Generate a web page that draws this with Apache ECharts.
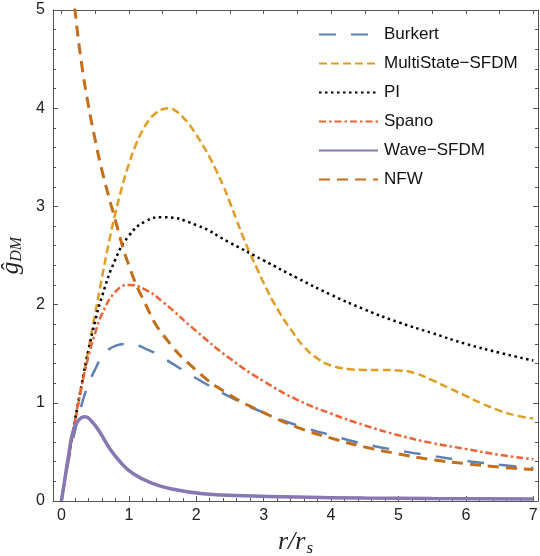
<!DOCTYPE html>
<html>
<head>
<meta charset="utf-8">
<script src="https://cdn.jsdelivr.net/npm/echarts@6/dist/echarts.min.js"></script>
<style>
  html, body { margin: 0; padding: 0; background: #fff; }
  #main { width: 540px; height: 556px; }
</style>
</head>
<body>
<div id="main"></div>
<script>
// shared radius grid (r / r_s)
const xGrid = [0, 0.1, 0.2, 0.3, 0.4, 0.5, 0.6, 0.8, 1.0, 1.25, 1.5, 2, 2.5, 3, 3.5, 4, 4.5, 5, 5.5, 6, 6.5, 7]

const burkert = [0, 0.39, 0.71, 0.98, 1.19, 1.34, 1.46, 1.58, 1.60, 1.55, 1.46, 1.25, 1.06, 0.90, 0.77, 0.67, 0.58, 0.515, 0.46, 0.41, 0.37, 0.335]
const pseudoIso = [0, 0.42, 0.82, 1.19, 1.53, 1.83, 2.08, 2.46, 2.70, 2.85, 2.89, 2.81, 2.63, 2.45, 2.27, 2.10, 1.95, 1.82, 1.71, 1.60, 1.51, 1.43]
const spano = [0, 0.42, 0.81, 1.17, 1.47, 1.71, 1.90, 2.13, 2.20, 2.15, 2.03, 1.73, 1.45, 1.22, 1.03, 0.89, 0.77, 0.67, 0.59, 0.53, 0.47, 0.425]
const nfw = [6.3, 5.6, 5.0, 4.45, 4.03, 3.68, 3.37, 2.86, 2.40, 2.0, 1.70, 1.33, 1.08, 0.90, 0.75, 0.64, 0.55, 0.48, 0.42, 0.38, 0.345, 0.32]

const xMulti = [0, 0.1, 0.2, 0.3, 0.4, 0.5, 0.6, 0.7, 0.8, 0.9, 1.0, 1.1, 1.2, 1.3, 1.4, 1.5, 1.6, 1.7, 1.8, 1.9, 2.0, 2.1, 2.2, 2.3, 2.4, 2.5, 2.6, 2.7, 2.8, 2.9, 3.0, 3.2, 3.4, 3.6, 3.8, 4.0, 4.25, 4.5, 4.75, 5.0, 5.25, 5.5, 5.75, 6.0, 6.25, 6.5, 6.75, 7.0]
const multiState = [0, 0.40, 0.79, 1.17, 1.54, 1.91, 2.27, 2.62, 2.93, 3.20, 3.43, 3.62, 3.77, 3.88, 3.95, 3.99, 4.00, 3.97, 3.91, 3.83, 3.73, 3.62, 3.50, 3.36, 3.21, 3.04, 2.86, 2.68, 2.52, 2.37, 2.22, 1.96, 1.75, 1.57, 1.45, 1.38, 1.345, 1.335, 1.335, 1.33, 1.30, 1.23, 1.15, 1.07, 0.99, 0.92, 0.87, 0.84]

const xWave = [0, 0.05, 0.1, 0.17, 0.25, 0.35, 0.45, 0.57, 0.72, 0.87, 1.06, 1.36, 1.66, 2.1, 2.84, 3.5, 4.5, 5.5, 7]
const wave = [0, 0.22, 0.44, 0.70, 0.82, 0.857, 0.81, 0.70, 0.53, 0.40, 0.28, 0.177, 0.12, 0.075, 0.05, 0.04, 0.03, 0.025, 0.02]

const xTickLabels = [0, 1, 2, 3, 4, 5, 6, 7]

function pairs(xs, ys) {
  return xs.map((x, i) => [x, ys[i]])
}

// minor ticks every 0.2 on the bottom, ticks every 0.5 on the top frame
const xMinor = []
for (let i = 1; i < 36; i++) {
  if (i % 5 !== 0) xMinor.push(+(i * 0.2).toFixed(2))
}
const xTop = []
for (let i = 0; i <= 14; i++) xTop.push(i * 0.5)

const frameColor = '#555'
const xMin = -0.125
const xMax = 7.07

const baseX = {
  type: 'value',
  min: xMin,
  max: xMax,
  splitLine: { show: false },
  axisLine: { onZero: false, lineStyle: { color: frameColor, width: 1 } }
}

const labelFont = { color: '#222', fontSize: 16, fontFamily: 'Liberation Sans' }

const option = {
  animation: false,
  backgroundColor: '#fff',
  grid: { left: 53, right: 2, top: 10, bottom: 55, containLabel: false, outerBoundsMode: 'none' },
  legend: {
    left: 313,
    top: 21,
    orient: 'vertical',
    itemWidth: 59,
    itemHeight: 14,
    itemGap: 12,
    itemStyle: { opacity: 0 },
    textStyle: { color: '#111', fontSize: 17, fontFamily: 'Liberation Sans', padding: [0, 0, 0, 1] },
    data: ['Burkert', 'MultiState\u2212SFDM', 'PI', 'Spano', 'Wave\u2212SFDM', 'NFW']
  },
  xAxis: [
    Object.assign({}, baseX, {
      position: 'bottom',
      axisTick: { inside: true, length: 5, customValues: xTickLabels, lineStyle: { color: frameColor } },
      axisLabel: Object.assign({ customValues: xTickLabels, margin: 7 }, labelFont),
      name: '{i|r/r}{s|s}',
      nameLocation: 'middle',
      nameGap: 27,
      nameTextStyle: {
        rich: {
          i: { fontFamily: 'Liberation Serif', fontStyle: 'italic', fontSize: 26, color: '#222' },
          s: { fontFamily: 'Liberation Serif', fontStyle: 'italic', fontSize: 17, color: '#222', padding: [12, 0, 0, 1] }
        }
      }
    }),
    Object.assign({}, baseX, {
      position: 'bottom',
      axisLine: { show: false, onZero: false },
      axisTick: { inside: true, length: 3, customValues: xMinor, lineStyle: { color: frameColor } },
      axisLabel: { show: false }
    }),
    Object.assign({}, baseX, {
      position: 'top',
      axisTick: { inside: true, length: 4, customValues: xTop, lineStyle: { color: frameColor } },
      axisLabel: { show: false }
    })
  ],
  yAxis: [
    {
      type: 'value',
      min: 0,
      max: 5,
      interval: 1,
      position: 'left',
      splitLine: { show: false },
      axisLine: { show: true, onZero: false, lineStyle: { color: frameColor } },
      axisTick: { show: true, inside: true, length: 5, lineStyle: { color: frameColor } },
      minorTick: { show: true, splitNumber: 5, length: 3, lineStyle: { color: frameColor } },
      axisLabel: Object.assign({ margin: 8 }, labelFont),
      name: '{g|\u011D}{s|DM}',
      nameLocation: 'middle',
      nameGap: 24,
      nameRotate: 90,
      nameTextStyle: {
        rich: {
          g: { fontFamily: 'Liberation Serif', fontStyle: 'italic', fontSize: 25, color: '#222' },
          s: { fontFamily: 'Liberation Serif', fontStyle: 'italic', fontSize: 16, color: '#222', padding: [12, 0, 0, 0] }
        }
      }
    },
    {
      type: 'value',
      min: 0,
      max: 5,
      interval: 1,
      position: 'right',
      splitLine: { show: false },
      axisLine: { show: true, onZero: false, lineStyle: { color: frameColor } },
      axisTick: { show: true, inside: true, length: 5, lineStyle: { color: frameColor } },
      minorTick: { show: true, splitNumber: 5, length: 3, lineStyle: { color: frameColor } },
      axisLabel: { show: false }
    }
  ],
  series: [
    {
      name: 'Burkert',
      type: 'line',
      smooth: true,
      symbol: 'none',
      data: pairs(xGrid, burkert),
      itemStyle: { color: '#5E81B5' },
      lineStyle: { color: '#5E81B5', width: 2.5, type: [17, 15] }
    },
    {
      name: 'MultiState\u2212SFDM',
      type: 'line',
      smooth: true,
      symbol: 'none',
      data: pairs(xMulti, multiState),
      itemStyle: { color: '#E19C24' },
      lineStyle: { color: '#E19C24', width: 2.5, type: [8, 4] }
    },
    {
      name: 'PI',
      type: 'line',
      smooth: true,
      symbol: 'none',
      data: pairs(xGrid, pseudoIso),
      itemStyle: { color: '#000' },
      lineStyle: { color: '#000', width: 2.5, type: [2.5, 3.5] }
    },
    {
      name: 'Spano',
      type: 'line',
      smooth: true,
      symbol: 'none',
      data: pairs(xGrid, spano),
      itemStyle: { color: '#EB6235' },
      lineStyle: { color: '#EB6235', width: 2.5, type: [7, 3, 2.5, 3] }
    },
    {
      name: 'Wave\u2212SFDM',
      type: 'line',
      smooth: true,
      symbol: 'none',
      data: pairs(xWave, wave),
      itemStyle: { color: '#8778B3' },
      lineStyle: { color: '#8778B3', width: 3.5 }
    },
    {
      name: 'NFW',
      type: 'line',
      smooth: true,
      symbol: 'none',
      data: pairs(xGrid, nfw),
      itemStyle: { color: '#C56E1A' },
      lineStyle: { color: '#C56E1A', width: 3, type: [11, 7] }
    }
  ]
}

const chart = echarts.init(document.getElementById('main'))
chart.setOption(option)
</script>
</body>
</html>
